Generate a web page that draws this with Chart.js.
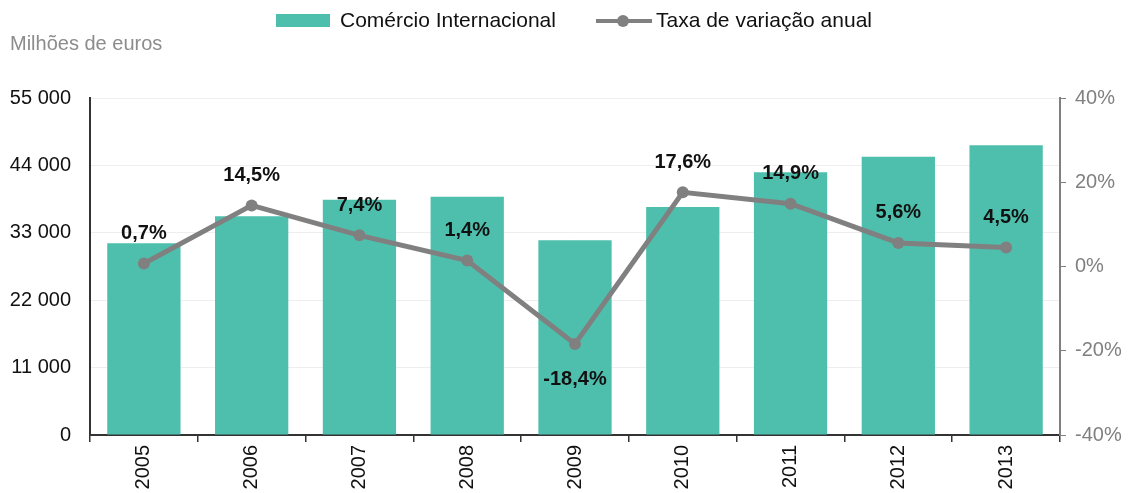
<!DOCTYPE html>
<html>
<head>
<meta charset="utf-8">
<script src="https://cdn.jsdelivr.net/npm/chart.js@4"></script>
<style>
    html, body { margin: 0; padding: 0; background: #fff; }
    #wrap { width: 1129px; height: 493px; }
</style>
</head>
<body>
<div id="wrap"><canvas id="chart" width="1129" height="493"></canvas></div>
<script>
// --- data ---
const years = ['2005', '2006', '2007', '2008', '2009', '2010', '2011', '2012', '2013'];
const comercio = [31300, 35700, 38400, 38900, 31800, 37200, 42900, 45400, 47300];
const taxa = [0.7, 14.5, 7.4, 1.4, -18.4, 17.6, 14.9, 5.6, 4.5];
const taxaLabels = ['0,7%', '14,5%', '7,4%', '1,4%', '-18,4%', '17,6%', '14,9%', '5,6%', '4,5%'];
const leftTicks = [0, 11000, 22000, 33000, 44000, 55000];
const rightTicks = [-40, -20, 0, 20, 40];

const TEAL = '#4fbfad';
const GREY = '#808080';
const FONT = '"Liberation Sans", Arial, sans-serif';

function fmtThousands(v) {
    return String(v).replace(/\B(?=(\d{3})+(?!\d))/g, ' ');
}

// legend, axis title and point labels drawn by hand
const decorations = {
    id: 'decorations',
    afterDraw(chart) {
        const c = chart.ctx;
        c.save();
        // axis title
        c.font = '20px ' + FONT;
        c.fillStyle = '#8c8c8c';
        c.textBaseline = 'middle';
        c.textAlign = 'left';
        c.fillText('Milhões de euros', 10, 44);

        // legend
        c.fillStyle = TEAL;
        c.fillRect(276, 14, 54, 13);
        c.font = '21px ' + FONT;
        c.fillStyle = '#111';
        c.fillText('Comércio Internacional', 340, 21);

        c.strokeStyle = GREY;
        c.lineWidth = 4;
        c.beginPath();
        c.moveTo(596, 21);
        c.lineTo(652, 21);
        c.stroke();
        c.fillStyle = GREY;
        c.beginPath();
        c.arc(623, 21, 6, 0, Math.PI * 2);
        c.fill();
        c.fillStyle = '#111';
        c.fillText('Taxa de variação anual', 656, 21);

        // point labels
        const meta = chart.getDatasetMeta(0);
        c.font = 'bold 20px ' + FONT;
        c.textAlign = 'center';
        c.fillStyle = '#111';
        meta.data.forEach((pt, i) => {
            const y = taxa[i] < 0 ? pt.y + 35 : pt.y - 30;
            c.fillText(taxaLabels[i], pt.x, y);
        });
        c.restore();
    }
};

new Chart(document.getElementById('chart'), {
    data: {
        labels: years,
        datasets: [
            {
                type: 'line',
                label: 'Taxa de variação anual',
                data: taxa,
                yAxisID: 'y1',
                borderColor: GREY,
                backgroundColor: GREY,
                borderWidth: 5,
                pointRadius: 6,
                pointBackgroundColor: GREY,
                pointBorderWidth: 0,
                tension: 0,
                order: 0,
            },
            {
                type: 'bar',
                label: 'Comércio Internacional',
                data: comercio,
                yAxisID: 'y',
                backgroundColor: TEAL,
                categoryPercentage: 1,
                barPercentage: 0.68,
                order: 1,
            },
        ]
    },
    options: {
        responsive: false,
        animation: false,
        layout: { padding: { top: 98, left: 0, right: 0, bottom: 0 } },
        plugins: {
            legend: { display: false },
            tooltip: { enabled: false },
        },
        scales: {
            x: {
                grid: {
                    offset: true,
                    drawOnChartArea: false,
                    drawTicks: true,
                    tickLength: 7,
                    color: '#333',
                    lineWidth: 1.5,
                },
                border: { color: '#333', width: 2 },
                ticks: {
                    color: '#111',
                    font: { family: FONT, size: 20 },
                    minRotation: 90,
                    maxRotation: 90,
                    padding: 3,
                },
                afterFit: s => { s.height = 58; },
            },
            y: {
                position: 'left',
                min: 0,
                max: 55000,
                afterBuildTicks: s => { s.ticks = leftTicks.map(v => ({ value: v })); },
                grid: { color: '#eeeeee', drawTicks: false },
                border: { color: '#333', width: 2 },
                ticks: {
                    color: '#111',
                    padding: 19,
                    font: { family: FONT, size: 20 },
                    callback: v => fmtThousands(v),
                },
                afterFit: s => { s.width = 90; },
            },
            y1: {
                position: 'right',
                min: -40,
                max: 40,
                afterBuildTicks: s => { s.ticks = rightTicks.map(v => ({ value: v })); },
                grid: { drawOnChartArea: false, drawTicks: true, tickLength: 6, color: GREY },
                border: { color: GREY, width: 2 },
                ticks: {
                    color: GREY,
                    padding: 9,
                    font: { family: FONT, size: 20 },
                    callback: v => v + '%',
                },
                afterFit: s => { s.width = 69; },
            },
        }
    },
    plugins: [decorations],
});
</script>
</body>
</html>
